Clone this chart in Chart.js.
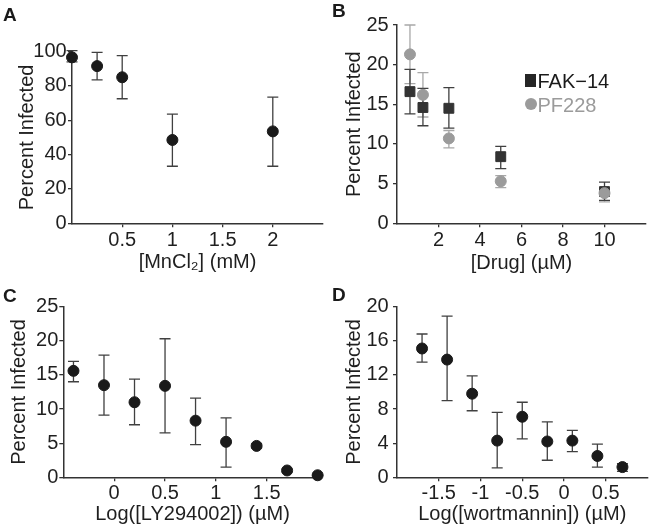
<!DOCTYPE html>
<html>
<head>
<meta charset="utf-8">
<script src="https://cdn.jsdelivr.net/npm/chart.js@4.4.1/dist/chart.umd.min.js"></script>
<style>
html,body{margin:0;padding:0;background:#fff;}
#wrap{position:relative;width:654px;height:530px;overflow:hidden;font-family:"Liberation Sans",Arial,Helvetica,sans-serif;}
#wrap canvas{position:absolute;left:0;top:0;}
.plabel{position:absolute;font-weight:bold;font-size:19px;line-height:19px;color:#1a1a1a;}
.legtxt{position:absolute;font-size:20px;line-height:20px;white-space:nowrap;}
.legsym{position:absolute;}
</style>
</head>
<body>
<div id="wrap">
  <canvas id="cA" width="654" height="530"></canvas>
  <canvas id="cB" width="654" height="530"></canvas>
  <canvas id="cC" width="654" height="530"></canvas>
  <canvas id="cD" width="654" height="530"></canvas>
  <div class="plabel" style="left:3px;top:4.5px;">A</div>
  <div class="plabel" style="left:332px;top:0.5px;">B</div>
  <div class="plabel" style="left:3px;top:285.5px;">C</div>
  <div class="plabel" style="left:332px;top:284.5px;">D</div>
  <div class="legsym" style="left:525px;top:73.5px;width:11px;height:13px;background:#262626;"></div>
  <div class="legtxt" style="left:537.5px;top:70.8px;color:#1a1a1a;">FAK−14</div>
  <div class="legsym" style="left:524.5px;top:98px;width:12px;height:12px;border-radius:50%;background:#9b9b9b;"></div>
  <div class="legtxt" style="left:537.5px;top:95px;color:#9b9b9b;">PF228</div>
</div>
<script>
// ---------- Panel A : MnCl2 ----------
const aDose  = [0, 0.25, 0.5, 1, 2];
const aMean  = [96.6, 91.5, 85.0, 48.5, 53.5];
const aLow   = [94.0, 83.5, 72.5, 33.2, 33.2];
const aHigh  = [100.5, 99.5, 97.6, 63.6, 73.5];
const aXTicks = [0.5, 1, 1.5, 2];
const aYTicks = [0, 20, 40, 60, 80, 100];

// ---------- Panel B : FAK inhibitors ----------
const bDose   = [0.625, 1.25, 2.5, 5, 10];
const fakMean = [16.6, 14.6, 14.5, 8.4, 4.0];
const fakLow  = [13.8, 12.3, 12.0, 6.9, 2.9];
const fakHigh = [19.4, 17.0, 17.1, 9.7, 5.2];
const pfMean  = [21.3, 16.2, 10.7, 5.3, 3.8];
const pfLow   = [17.6, 13.4, 9.5, 4.5, 2.7];
const pfHigh  = [25.0, 19.0, 11.7, 6.0, 4.4];
const bXTicks = [2, 4, 6, 8, 10];
const bYTicks = [0, 5, 10, 15, 20, 25];

// ---------- Panel C : LY294002 ----------
const cLog   = [-0.4, -0.1, 0.2, 0.5, 0.8, 1.1, 1.4, 1.7, 2.0];
const cMean  = [15.6, 13.5, 11.0, 13.4, 8.3, 5.2, 4.6, 1.0, 0.3];
const cLow   = [14.0, 9.1, 7.7, 6.5, 4.8, 1.5, 4.3, 0.8, 0.2];
const cHigh  = [17.0, 17.9, 14.4, 20.3, 11.6, 8.7, 4.9, 1.2, 0.4];
const cXTicks = [0, 0.5, 1, 1.5];
const cYTicks = [0, 5, 10, 15, 20, 25];

// ---------- Panel D : wortmannin ----------
const dLog   = [-1.7, -1.4, -1.1, -0.8, -0.5, -0.2, 0.1, 0.4, 0.7];
const dMean  = [15.1, 13.8, 9.8, 4.3, 7.1, 4.2, 4.3, 2.5, 1.2];
const dLow   = [13.5, 9.0, 7.8, 1.1, 4.5, 2.0, 3.0, 1.2, 0.7];
const dHigh  = [16.8, 18.9, 11.9, 7.6, 8.8, 6.5, 5.5, 3.9, 1.6];
const dXTicks = [-1.5, -1, -0.5, 0, 0.5];
const dYTicks = [0, 4, 8, 12, 16, 20];

const FONT = '"Liberation Sans", Arial, Helvetica, sans-serif';
const TEXT = '#1f1f1f';
const AXIS = '#333333';

const errorBars = {
  id: 'errorBars',
  beforeDatasetsDraw(chart) {
    const ctx = chart.ctx;
    const ys = chart.scales.y;
    chart.data.datasets.forEach((ds, i) => {
      const meta = chart.getDatasetMeta(i);
      const cap = 5.5;
      ctx.save();
      ctx.strokeStyle = ds.errColor;
      ctx.lineWidth = 1.3;
      meta.data.forEach((pt, j) => {
        const x = pt.x;
        const yl = ys.getPixelForValue(ds.errLow[j]);
        const yh = ys.getPixelForValue(ds.errHigh[j]);
        ctx.beginPath();
        ctx.moveTo(x, yl); ctx.lineTo(x, yh);
        ctx.moveTo(x - cap, yl); ctx.lineTo(x + cap, yl);
        ctx.moveTo(x - cap, yh); ctx.lineTo(x + cap, yh);
        ctx.stroke();
      });
      ctx.restore();
    });
  }
};

function series(xs, ys, lo, hi, color, errColor, style, radius) {
  return {
    data: xs.map((x, i) => ({x: x, y: ys[i]})),
    errLow: lo, errHigh: hi, errColor: errColor,
    backgroundColor: color, borderColor: color, borderWidth: 1,
    pointStyle: style, pointRadius: radius, clip: false
  };
}

function makePanel(id, p) {
  new Chart(document.getElementById(id), {
    type: 'scatter',
    data: {datasets: p.datasets},
    plugins: [errorBars],
    options: {
      responsive: false, animation: false, events: [],
      layout: {padding: {left: p.L0, top: p.top, right: 654 - p.right, bottom: 530 - p.bottom - p.xH}},
      plugins: {legend: {display: false}, tooltip: {enabled: false}},
      scales: {
        x: {
          type: 'linear', min: p.xMin, max: p.xMax,
          afterBuildTicks: s => { s.ticks = p.xTicks.map(v => ({value: v})); },
          afterFit: s => { s.height = p.xH; },
          grid: {drawOnChartArea: false, drawTicks: true, tickLength: 4, color: AXIS, lineWidth: 1.3},
          border: {display: true, color: AXIS, width: 1.5},
          ticks: {color: TEXT, font: {family: FONT, size: 20}, padding: p.xPad, maxRotation: 0, autoSkip: false,
                  callback: v => String(v)},
          title: {display: true, text: p.xTitle, color: TEXT, font: {family: FONT, size: 20},
                  padding: {top: 0, bottom: p.xTitlePad}}
        },
        y: {
          type: 'linear', min: p.yMin, max: p.yMax,
          afterBuildTicks: s => { s.ticks = p.yTicks.map(v => ({value: v})); },
          afterFit: s => { s.width = p.left - p.L0; },
          grid: {drawOnChartArea: false, drawTicks: true, tickLength: 4, color: AXIS, lineWidth: 1.3},
          border: {display: true, color: AXIS, width: 1.5},
          ticks: {color: TEXT, font: {family: FONT, size: 20}, padding: p.yPad, autoSkip: false,
                  callback: v => String(v)},
          title: {display: true, text: 'Percent Infected', color: TEXT, font: {family: FONT, size: 20},
                  padding: {top: p.yTitlePad, bottom: 0}}
        }
      }
    }
  });
}

makePanel('cA', {
  L0: 0, left: 72, right: 323, top: 51.5, bottom: 223.3, xH: 52,
  xMin: 0, xMax: 2.5, yMin: 0, yMax: 100, xTicks: aXTicks, yTicks: aYTicks,
  xPad: 1.5, yPad: 1.3, xTitlePad: 1, yTitlePad: 15.5, xTitle: '[MnCl\u2082] (mM)',
  datasets: [series(aDose, aMean, aLow, aHigh, '#1a1a1a', '#404040', 'circle', 5.5)]
});

makePanel('cB', {
  L0: 327, left: 397, right: 650, top: 25, bottom: 223.3, xH: 52,
  xMin: 0, xMax: 12, yMin: 0, yMax: 25, xTicks: bXTicks, yTicks: bYTicks,
  xPad: 1.5, yPad: 4.3, xTitlePad: 0, yTitlePad: 15.5, xTitle: '[Drug] (\u00b5M)',
  datasets: [
    series(bDose, pfMean, pfLow, pfHigh, '#9b9b9b', '#a8a8a8', 'circle', 5.5),
    series(bDose, fakMean, fakLow, fakHigh, '#333333', '#404040', 'rect', 7)
  ]
});

makePanel('cC', {
  L0: 0, left: 63.3, right: 321.7, top: 306.7, bottom: 477.3, xH: 52,
  xMin: -0.5, xMax: 2.04, yMin: 0, yMax: 25, xTicks: cXTicks, yTicks: cYTicks,
  xPad: 0.2, yPad: 1, xTitlePad: 3.3, yTitlePad: 7, xTitle: 'Log([LY294002]) (\u00b5M)',
  datasets: [series(cLog, cMean, cLow, cHigh, '#1a1a1a', '#404040', 'circle', 5.5)]
});

makePanel('cD', {
  L0: 327, left: 397, right: 650, top: 306.7, bottom: 477.3, xH: 52,
  xMin: -2, xMax: 1, yMin: 0, yMax: 20, xTicks: dXTicks, yTicks: dYTicks,
  xPad: 0.2, yPad: 4.3, xTitlePad: 3.3, yTitlePad: 15.5, xTitle: 'Log([wortmannin]) (\u00b5M)',
  datasets: [series(dLog, dMean, dLow, dHigh, '#1a1a1a', '#404040', 'circle', 5.5)]
});
</script>
</body>
</html>
